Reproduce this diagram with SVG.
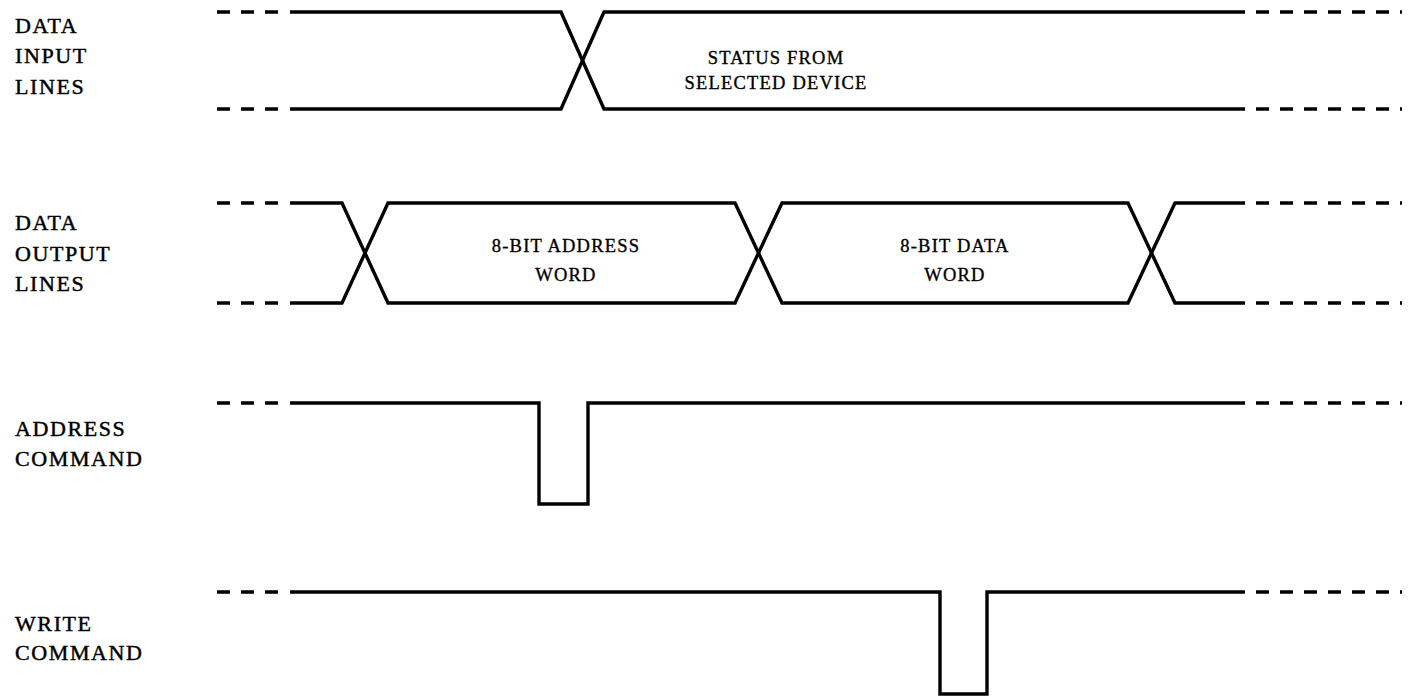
<svg xmlns="http://www.w3.org/2000/svg" width="1410" height="699" viewBox="0 0 1410 699">
  <style>
    .sig { fill: none; stroke: #000; stroke-width: 3.4; stroke-linejoin: miter; }
    .dash { fill: none; stroke: #000; stroke-width: 3.6; stroke-dasharray: 13 11; }
    .lbl { font-family: "Liberation Serif", "Times New Roman", serif; font-size: 22px; letter-spacing: 1.6px; fill: #000; stroke: #000; stroke-width: 0.45; }
    .in { font-family: "Liberation Serif", "Times New Roman", serif; font-size: 18.5px; letter-spacing: 1.2px; fill: #000; stroke: #000; stroke-width: 0.35; text-anchor: middle; }
  </style>
  <rect width="1410" height="699" fill="#fff"/>

  <!-- signal names -->
  <g id="label-data-input">
    <text class="lbl" x="15" y="33">DATA</text>
    <text class="lbl" x="15" y="63">INPUT</text>
    <text class="lbl" x="15" y="94">LINES</text>
  </g>
  <g id="label-data-output">
    <text class="lbl" x="15" y="230">DATA</text>
    <text class="lbl" x="15" y="261">OUTPUT</text>
    <text class="lbl" x="15" y="291">LINES</text>
  </g>
  <g id="label-address-command">
    <text class="lbl" x="15" y="436">ADDRESS</text>
    <text class="lbl" x="15" y="466">COMMAND</text>
  </g>
  <g id="label-write-command">
    <text class="lbl" x="15" y="631">WRITE</text>
    <text class="lbl" x="15" y="660">COMMAND</text>
  </g>

  <!-- waveforms -->
  <g id="waveforms">
    <!-- data input lines -->
    <g id="wave-data-input">
      <path class="dash" d="M217 12 H283 M1256 12 H1402"/>
      <path class="dash" d="M217 109 H283 M1256 109 H1402"/>
      <path class="sig" d="M290 12 H561 L604 109 H1245"/>
      <path class="sig" d="M290 109 H561 L604 12 H1245"/>
    </g>
    <!-- data output lines -->
    <g id="wave-data-output">
      <path class="dash" d="M217 203 H283 M1256 203 H1402"/>
      <path class="dash" d="M217 303 H283 M1256 303 H1402"/>
      <path class="sig" d="M290 203 H342 L388 303 H735 L782 203 H1128 L1175 303 H1245"/>
      <path class="sig" d="M290 303 H342 L388 203 H735 L782 303 H1128 L1175 203 H1245"/>
    </g>
    <!-- address command -->
    <g id="wave-address-command">
      <path class="dash" d="M217 403 H283 M1256 403 H1402"/>
      <path class="sig" d="M290 403 H539 V504 H588 V403 H1245"/>
    </g>
    <!-- write command -->
    <g id="wave-write-command">
      <path class="dash" d="M217 592 H283 M1256 592 H1402"/>
      <path class="sig" d="M290 592 H940 V694 H987 V592 H1245"/>
    </g>
  </g>

  <!-- bus contents -->
  <g id="bus-status">
    <text class="in" x="776" y="64">STATUS FROM</text>
    <text class="in" x="776" y="89">SELECTED DEVICE</text>
  </g>
  <g id="bus-address">
    <text class="in" x="566" y="252">8-BIT ADDRESS</text>
    <text class="in" x="566" y="281">WORD</text>
  </g>
  <g id="bus-data">
    <text class="in" x="955" y="252">8-BIT DATA</text>
    <text class="in" x="955" y="281">WORD</text>
  </g>
</svg>
